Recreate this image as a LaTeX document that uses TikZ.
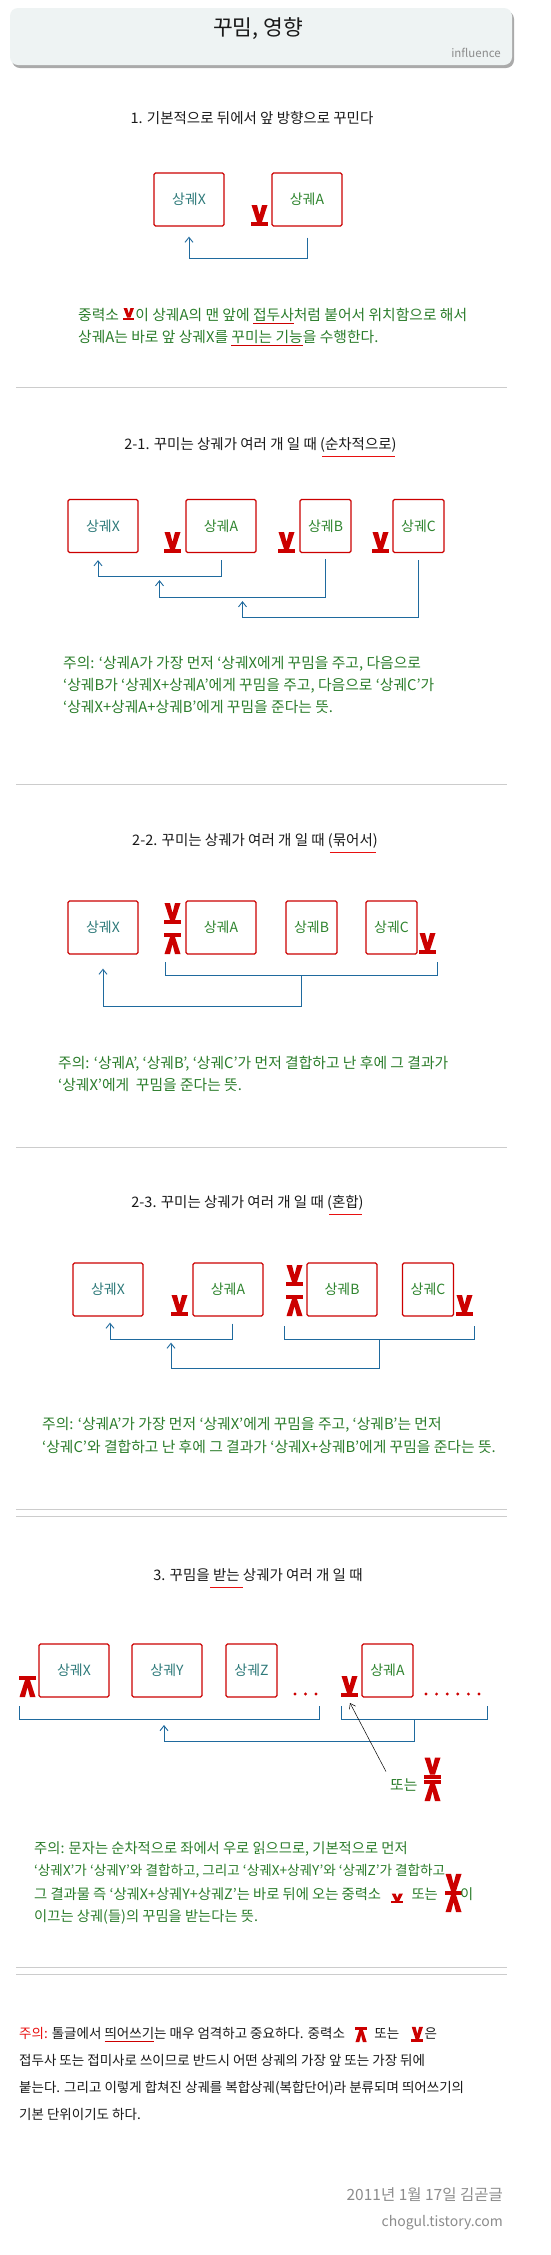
\documentclass[tikz,border=0pt]{standalone}
\usepackage{fontspec}
\setmainfont{Noto Sans CJK KR}
\usepackage{tikz}
\usetikzlibrary{arrows.meta,positioning,calc}
\definecolor{Brick}{HTML}{CC0000}
\definecolor{Signal}{HTML}{E81010}
\definecolor{Leaf}{HTML}{2B7D2B}
\definecolor{Teal}{HTML}{2E7A7A}
\definecolor{Sprout}{HTML}{2F852F}
\definecolor{Stream}{HTML}{1F6A9E}
\definecolor{Rule}{HTML}{CCCCCC}
\definecolor{Mist}{HTML}{EEF3F3}
\definecolor{Ash}{HTML}{AAAAAA}
\definecolor{Slate}{HTML}{8C8C8C}
\definecolor{Ink}{HTML}{1A1A1A}

\newsavebox\ulbox
\newcommand\redul[1]{\sbox\ulbox{#1}\rlap{\textcolor{Brick}{\rule[-3.5pt]{\wd\ulbox}{0.9pt}}}\usebox\ulbox}
\newcommand\titul[1]{\sbox\ulbox{#1}\rlap{\hspace{-3pt}\textcolor{Signal}{\rule[-8pt]{\dimexpr\wd\ulbox+6pt\relax}{1.4pt}}}\textcolor{Signal}{\usebox\ulbox}}

\tikzset{
  sgbox/.style={draw=Brick,line width=1.3pt,rounded corners=1.5pt,minimum height=53pt,inner sep=0pt,font=\fontsize{14}{16}\selectfont},
  wbox/.style={sgbox,minimum width=70pt},
  nbox/.style={sgbox,minimum width=51pt},
  link/.style={draw=Stream,line width=0.9pt,-{Straight Barb[length=5pt,width=8pt]}},
  brk/.style={draw=Stream,line width=0.9pt},
  ptr/.style={draw=black,line width=0.5pt,-{Straight Barb[length=5pt,width=7pt]}},
  heading/.style={inner sep=0pt,text=Ink,font=\fontsize{14.5}{17}\selectfont},
  note/.style={anchor=base west,inner sep=0pt,text=Leaf,font=\fontsize{14.8}{17}\selectfont},
  smallnote/.style={note,font=\fontsize{14.3}{17}\selectfont},
  plain/.style={anchor=base west,inner sep=0pt,text=Ink,font=\fontsize{13.5}{16}\selectfont},
  stamp/.style={anchor=east,inner sep=0pt,text=Slate,font=\fontsize{14}{16}\selectfont},
  sep/.style={draw=Rule,line width=1pt},
  gvee/.pic={\fill[Brick] (0,0) rectangle (17,-4);
    \fill[Brick] (0.5,-21) -- (6,-21) -- (8.5,-11) -- (11,-21) -- (16.5,-21) -- (11,-4) -- (6,-4) -- cycle;},
  gwedge/.pic={\fill[Brick] (0,-21) rectangle (17,-17);
    \fill[Brick] (0.5,0) -- (6,0) -- (8.5,-10) -- (11,0) -- (16.5,0) -- (11,-17) -- (6,-17) -- cycle;},
  gboth/.pic={\pic {gwedge}; \pic at (0,-30) {gvee};}
}

\begin{document}
\begin{tikzpicture}[x=1pt,y=-1pt]
\fill[white] (0,0) rectangle (550,2255);
\useasboundingbox (0,0) rectangle (550,2255);

% header
\fill[Ash,rounded corners=8pt] (12,11) rectangle (514,68);
\fill[Mist,rounded corners=8pt] (10,8) rectangle (512,65);
\node[inner sep=0pt,text=Ink,font=\fontsize{21.5}{24}\selectfont] (ttl) at (258,29) {꾸밈, 영향};
\node[anchor=east,inner sep=0pt,text=Slate,font=\fontsize{11.5}{13}\selectfont] (sub) at (501,53) {influence};

% 1
\node[heading] (h1) at (252,118) {1. 기본적으로 뒤에서 앞 방향으로 꾸민다};
\node[wbox,text=Teal] (x1) at (189,199.5) {상궤X};
\node[wbox,text=Sprout] (a1) at (307,199.5) {상궤A};
\pic at (251,226) {gvee};
\draw[link] ([yshift=-11pt]a1.south) -- ++(0,21) -| ([yshift=-10pt]x1.south);
\node[note] (n1a) at (78,320) {중력소};
\pic[xscale=0.65,yscale=0.57] at ([xshift=4pt]n1a.base east) {gvee};
\node[note] (n1b) at ([xshift=16pt]n1a.base east) {이 상궤A의 맨 앞에 \redul{접두사}처럼 붙어서 위치함으로 해서};
\node[note] (n1c) at (78,342) {상궤A는 바로 앞 상궤X를 \redul{꾸미는 기능}을 수행한다.};

\draw[sep] (16,387) -- (507,387);

% 2-1
\node[heading] (h21) at (260.5,447) {2-1. 꾸미는 상궤가 여러 개 일 때 (\titul{순차적으로})};
\node[wbox,text=Teal] (x2) at (103,526) {상궤X};
\node[wbox,text=Sprout] (a2) at (221,526) {상궤A};
\node[nbox,text=Sprout] (b2) at (325.5,526) {상궤B};
\node[nbox,text=Sprout] (c2) at (418.5,526) {상궤C};
\pic at (164,553) {gvee};
\pic at (278,553) {gvee};
\pic at (372,553) {gvee};
\draw[link] ([yshift=-7pt]a2.south) -- ++(0,16) -| coordinate[pos=0.25] (m21) ([xshift=-5pt,yshift=-7pt]x2.south);
\draw[link] ([yshift=-6pt]b2.south) -- ++(0,38) -| coordinate[pos=0.25] (m22) ([yshift=-4pt]m21);
\draw[link] ([yshift=-7pt]c2.south) -- ++(0,57) -| ([yshift=-4pt]m22);
\node[note] (n2a) at (63,668.5) {주의: ‘상궤A가 가장 먼저 ‘상궤X에게 꾸밈을 주고, 다음으로};
\node[note] (n2b) at (63,690.5) {‘상궤B가 ‘상궤X+상궤A’에게 꾸밈을 주고, 다음으로 ‘상궤C’가};
\node[note] (n2c) at (63,712.5) {‘상궤X+상궤A+상궤B’에게 꾸밈을 준다는 뜻.};

\draw[sep] (16,784) -- (507,784);

% 2-2
\node[heading] (h22) at (255,843) {2-2. 꾸미는 상궤가 여러 개 일 때 (\titul{묶어서})};
\node[wbox,text=Teal] (x3) at (103,927.5) {상궤X};
\node[wbox,text=Sprout] (a3) at (221,927.5) {상궤A};
\node[nbox,text=Sprout] (b3) at (311.5,927.5) {상궤B};
\node[nbox,text=Sprout] (c3) at (391.5,927.5) {상궤C};
\pic at (164,954) {gboth};
\pic at (419,954) {gvee};
\coordinate (g3l) at (165,962);
\coordinate (g3r) at (437,962);
\draw[brk] (g3l) -- ++(0,13) -| coordinate[pos=0.25] (m31) (g3r);
\draw[link] (m31) -- ++(0,31) -| ([yshift=-14pt]x3.south);
\node[note] (n3a) at (58,1068.5) {주의: ‘상궤A’, ‘상궤B’, ‘상궤C’가 먼저 결합하고 난 후에 그 결과가};
\node[note] (n3b) at (58,1090.5) {‘상궤X’에게 \ 꾸밈을 준다는 뜻.};

\draw[sep] (16,1147) -- (507,1147);

% 2-3
\node[heading] (h23) at (247.5,1205) {2-3. 꾸미는 상궤가 여러 개 일 때 (\titul{혼합})};
\node[wbox,text=Teal] (x4) at (108,1289.5) {상궤X};
\node[wbox,text=Sprout] (a4) at (228,1289.5) {상궤A};
\node[wbox,text=Sprout] (b4) at (342,1289.5) {상궤B};
\node[nbox,text=Sprout] (c4) at (428,1289.5) {상궤C};
\pic at (171,1316) {gvee};
\pic at (286,1316) {gboth};
\pic at (456,1316) {gvee};
\draw[link] ([xshift=4pt,yshift=-7pt]a4.south) -- ++(0,16) -| coordinate[pos=0.25] (m41) ([xshift=2pt,yshift=-6pt]x4.south);
\coordinate (g4l) at (284,1326);
\coordinate (g4r) at (474,1326);
\draw[brk] (g4l) -- ++(0,13) -| coordinate[pos=0.25] (m42) (g4r);
\draw[link] (m42) -- ++(0,29) -| ([yshift=-3pt]m41);
\node[note] (n4a) at (42,1429.5) {주의: ‘상궤A’가 가장 먼저 ‘상궤X’에게 꾸밈을 주고, ‘상궤B’는 먼저};
\node[note] (n4b) at (42,1452.5) {‘상궤C’와 결합하고 난 후에 그 결과가 ‘상궤X+상궤B’에게 꾸밈을 준다는 뜻.};

\draw[sep] (16,1509) -- (507,1509);
\draw[sep] (16,1516) -- (507,1516);

% 3
\node[heading] (h3) at (258,1578) {3. 꾸밈을 \titul{받는} 상궤가 여러 개 일 때};
\node[wbox,text=Teal] (x5) at (74,1670.5) {상궤X};
\node[wbox,text=Teal] (y5) at (167,1670.5) {상궤Y};
\node[nbox,text=Teal] (z5) at (251.5,1670.5) {상궤Z};
\node[nbox,text=Sprout] (a5) at (387.5,1670.5) {상궤A};
\pic at (19,1697) {gwedge};
\pic at (341,1697) {gvee};
\foreach \i in {0,1,2} \fill[Brick] (295+\i*10.5,1694) circle (1.6);
\foreach \i in {0,...,5} \fill[Brick] (426+\i*10.6,1694) circle (1.6);
\coordinate (g5l) at (19,1706);
\coordinate (g5r) at (319,1706);
\coordinate (g6l) at (341,1706);
\coordinate (g6r) at (487,1706);
\draw[brk] (g5l) -- ++(0,13) -| coordinate[pos=0.25] (m51) (g5r);
\draw[brk] (g6l) -- ++(0,13) -| coordinate[pos=0.25] (m52) (g6r);
\draw[link] (m52) -- ++(0,22) -| ([xshift=-5pt,yshift=-6pt]m51);
\coordinate (vtip) at (350,1703);
\node[note] (alt5) at (390,1790.5) {또는};
\pic[xscale=0.76,yscale=0.75] at (424,1801) {gboth};
\draw[ptr] ([shift={(-4,-7)}]alt5.north west) -- (vtip);
\node[smallnote] (n5a) at (34,1853.5) {주의: 문자는 순차적으로 좌에서 우로 읽으므로, 기본적으로 먼저};
\node[smallnote,font=\fontsize{13.6}{17}\selectfont] (n5b) at (34,1875.5) {‘상궤X’가 ‘상궤Y’와 결합하고, 그리고 ‘상궤X+상궤Y’와 ‘상궤Z’가 결합하고};
\node[smallnote] (n5c) at (34,1899.5) {그 결과물 즉 ‘상궤X+상궤Y+상궤Z’는 바로 뒤에 오는 중력소};
\pic[xscale=0.7,yscale=0.45] at ([xshift=10pt,yshift=-3.5pt]n5c.base east) {gvee};
\node[smallnote] (n5d) at ([xshift=30pt]n5c.base east) {또는};
\pic[xscale=0.7,yscale=0.57] at ([xshift=7pt,yshift=-12.5pt]n5d.base east) {gboth};
\node[smallnote] (n5e) at ([xshift=22pt]n5d.base east) {이};
\node[smallnote] (n5f) at (34,1921.5) {이끄는 상궤(들)의 꾸밈을 받는다는 뜻.};

\draw[sep] (16,1967) -- (507,1967);
\draw[sep] (16,1974) -- (507,1974);

% closing note
\node[plain] (f1a) at (19,2038.5) {\textcolor{Signal}{주의:} 톨글에서 \redul{띄어쓰기}는 매우 엄격하고 중요하다. 중력소};
\pic[xscale=0.7,yscale=0.72] at ([xshift=10pt,yshift=-3.5pt]f1a.base east) {gwedge};
\node[plain] (f1b) at ([xshift=29pt]f1a.base east) {또는};
\pic[xscale=0.7,yscale=0.72] at ([xshift=12pt,yshift=-3.5pt]f1b.base east) {gvee};
\node[plain] (f1c) at ([xshift=25pt]f1b.base east) {은};
\node[plain] (f2) at (19,2065.5) {접두사 또는 접미사로 쓰이므로 반드시 어떤 상궤의 가장 앞 또는 가장 뒤에};
\node[plain] (f3) at (19,2092.5) {붙는다. 그리고 이렇게 합쳐진 상궤를 복합상궤(복합단어)라 분류되며 띄어쓰기의};
\node[plain] (f4) at (19,2119.5) {기본 단위이기도 하다.};

% footer
\node[stamp,font=\fontsize{15.5}{17}\selectfont] (date) at (503,2195) {2011년 1월 17일 김곧글};
\node[stamp] (site) at (503,2223) {chogul.tistory.com};
\end{tikzpicture}
\end{document}
